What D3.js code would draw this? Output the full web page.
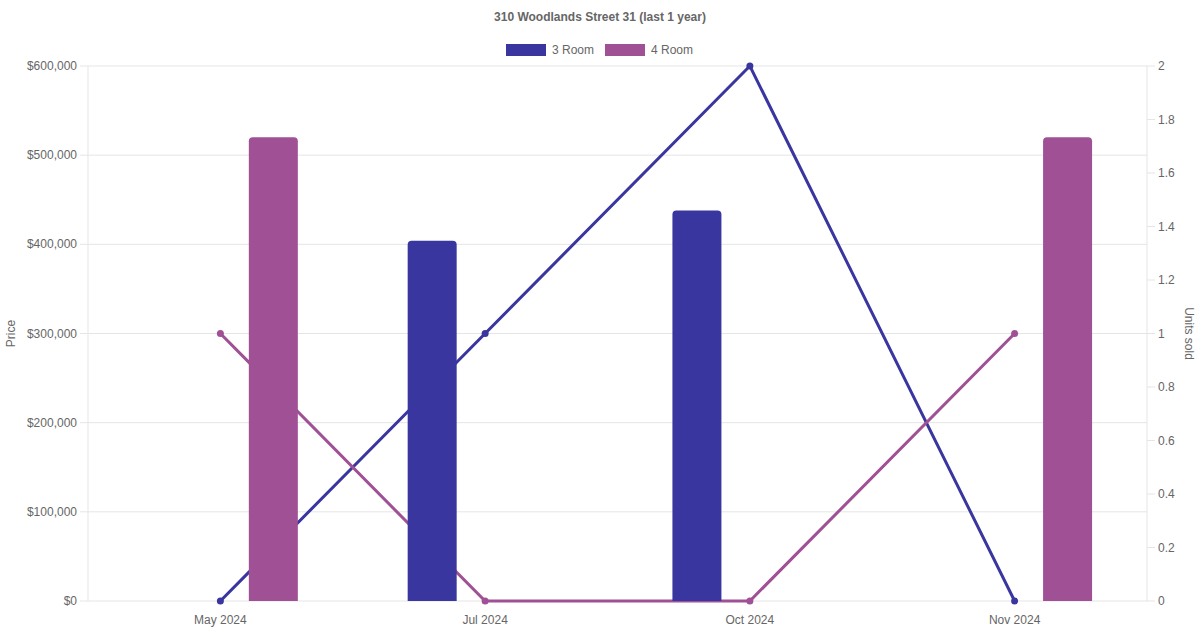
<!DOCTYPE html>
<html>
<head>
<meta charset="utf-8">
<script src="https://cdn.jsdelivr.net/npm/d3@7"></script>
<style>
  body { margin: 0; background: #fff; }
  svg { display: block; font-family: "Liberation Sans", Arial, sans-serif; }
</style>
</head>
<body>
<svg id="chart" width="1200" height="630"></svg>
<script>
// data
const months = ['May 2024', 'Jul 2024', 'Oct 2024', 'Nov 2024'];
const seriesNames = ['3 Room', '4 Room'];
const price3 = [null, 404000, 438000, null];
const price4 = [520000, null, null, 520000];
const units3 = [0, 1, 2, 0];
const units4 = [1, 0, 0, 1];
const priceTicks = [0, 100000, 200000, 300000, 400000, 500000, 600000];
const unitTicks = [0, 0.2, 0.4, 0.6, 0.8, 1, 1.2, 1.4, 1.6, 1.8, 2];
const colors = ['#3a36a0', '#a05094'];

function renderChart() {
  const svg = d3.select('#chart');
  const left = 88, right = 1147, top = 66, bottom = 601;
  const textColor = '#666';
  const gridColor = '#e5e5e5';

  const x = d3.scaleBand().domain(months).range([left, right]);
  const slot = d3.scaleBand().domain(seriesNames).range([0, x.bandwidth()]).paddingOuter(0.125 / 0.8 * 0);
  const yPrice = d3.scaleLinear().domain([0, 600000]).range([bottom, top]);
  const yUnits = d3.scaleLinear().domain([0, 2]).range([bottom, top]);

  // title
  svg.append('text')
    .attr('x', 600).attr('y', 21)
    .attr('text-anchor', 'middle')
    .attr('font-size', 12).attr('font-weight', 'bold')
    .attr('fill', textColor)
    .text('310 Woodlands Street 31 (last 1 year)');

  // legend
  const legend = svg.append('g');
  const legendItems = [{ name: '3 Room', x: 506 }, { name: '4 Room', x: 605 }];
  legendItems.forEach((d, i) => {
    legend.append('rect')
      .attr('x', d.x).attr('y', 44).attr('width', 40).attr('height', 12)
      .attr('fill', colors[i]);
    legend.append('text')
      .attr('x', d.x + 46).attr('y', 54)
      .attr('font-size', 12).attr('fill', textColor)
      .text(d.name);
  });

  // left axis + grid
  const gy = svg.append('g');
  priceTicks.forEach(t => {
    gy.append('line')
      .attr('x1', left - 8).attr('x2', right)
      .attr('y1', yPrice(t)).attr('y2', yPrice(t))
      .attr('stroke', gridColor);
    gy.append('text')
      .attr('x', left - 11).attr('y', yPrice(t) + 4)
      .attr('text-anchor', 'end').attr('font-size', 12).attr('fill', textColor)
      .text(d3.format('$,')(t));
  });
  gy.append('line')
    .attr('x1', left).attr('x2', left).attr('y1', top).attr('y2', bottom)
    .attr('stroke', gridColor);

  // right axis
  const gr = svg.append('g');
  gr.append('line')
    .attr('x1', right).attr('x2', right).attr('y1', top).attr('y2', bottom)
    .attr('stroke', gridColor);
  unitTicks.forEach(t => {
    gr.append('line')
      .attr('x1', right).attr('x2', right + 8)
      .attr('y1', yUnits(t)).attr('y2', yUnits(t))
      .attr('stroke', gridColor);
    gr.append('text')
      .attr('x', right + 11).attr('y', yUnits(t) + 4)
      .attr('font-size', 12).attr('fill', textColor)
      .text(d3.format('~g')(t));
  });

  // x labels
  months.forEach(m => {
    svg.append('text')
      .attr('x', x(m) + x.bandwidth() / 2).attr('y', 624)
      .attr('text-anchor', 'middle').attr('font-size', 12).attr('fill', textColor)
      .text(m);
  });

  // axis titles
  svg.append('text')
    .attr('transform', `translate(15,${(top + bottom) / 2}) rotate(-90)`)
    .attr('text-anchor', 'middle').attr('font-size', 12).attr('fill', textColor)
    .text('Price');
  svg.append('text')
    .attr('transform', `translate(1185,${(top + bottom) / 2}) rotate(90)`)
    .attr('text-anchor', 'middle').attr('font-size', 12).attr('fill', textColor)
    .text('Units sold');

  // lines (under bars)
  const cx = m => x(m) + x.bandwidth() / 2;
  [units3, units4].forEach((vals, i) => {
    const pts = months.map((m, j) => [cx(m), yUnits(vals[j])]);
    svg.append('path')
      .attr('d', d3.line()(pts))
      .attr('fill', 'none').attr('stroke', colors[i]).attr('stroke-width', 3);
    svg.selectAll(null).data(pts).enter().append('circle')
      .attr('cx', d => d[0]).attr('cy', d => d[1]).attr('r', 3.5)
      .attr('fill', colors[i]);
  });

  // bars: category 80%, two slots per category
  const groupW = x.bandwidth() * 0.8;
  const slotW = groupW / 2;
  const barW = 49;
  const r = 4;
  [price3, price4].forEach((vals, i) => {
    months.forEach((m, j) => {
      if (vals[j] == null) return;
      const center = cx(m) - groupW / 2 + slotW * (i + 0.5);
      const x0 = center - barW / 2, x1 = center + barW / 2;
      const yt = yPrice(vals[j]), yb = yPrice(0);
      const p = d3.path();
      p.moveTo(x0, yb);
      p.lineTo(x0, yt + r);
      p.quadraticCurveTo(x0, yt, x0 + r, yt);
      p.lineTo(x1 - r, yt);
      p.quadraticCurveTo(x1, yt, x1, yt + r);
      p.lineTo(x1, yb);
      p.closePath();
      svg.append('path').attr('d', p.toString()).attr('fill', colors[i]);
    });
  });
}

renderChart();
</script>
</body>
</html>
